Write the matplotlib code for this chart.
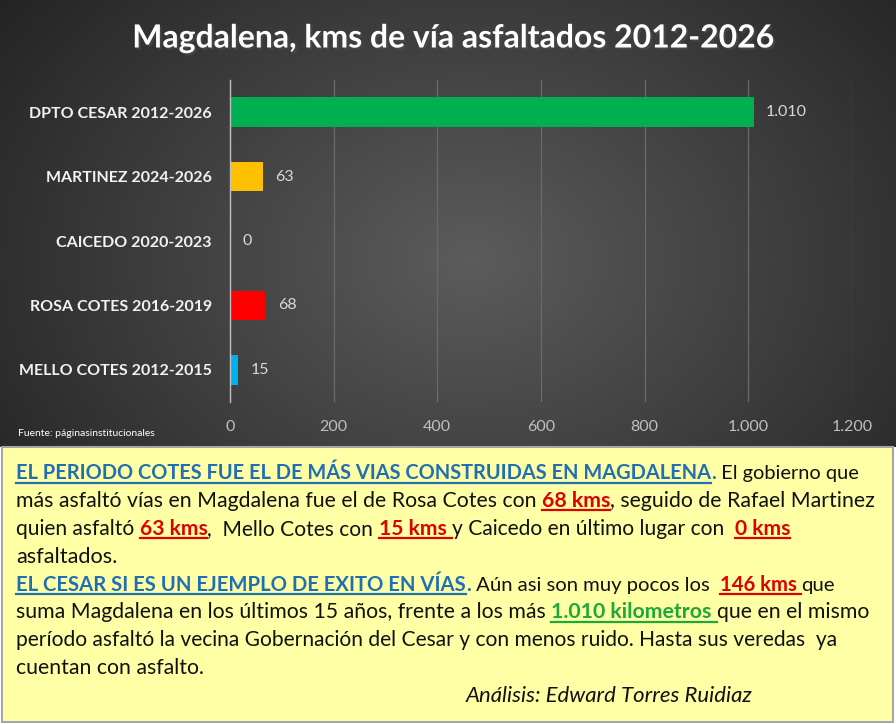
import numpy as np
import matplotlib
matplotlib.use("Agg")
import matplotlib.pyplot as plt
from matplotlib.patches import Rectangle
from matplotlib.lines import Line2D
import matplotlib.patheffects as pe

plt.rcParams['font.family'] = ['Lato', 'DejaVu Sans']

# data
categories = ["DPTO CESAR 2012-2026", "MARTINEZ 2024-2026", "CAICEDO 2020-2023",
              "ROSA COTES 2016-2019", "MELLO COTES 2012-2015"]
values = [1010, 63, 0, 68, 15]
bar_colors = ["#00B050", "#FFC000", "#A5A5A5", "#FF0000", "#00B0F0"]
value_labels = ["1.010", "63", "0", "68", "15"]
xticks = [0, 200, 400, 600, 800, 1000, 1200]
xtick_labels = ["0", "200", "400", "600", "800", "1.000", "1.200"]
title = "Magdalena, kms de vía asfaltados 2012-2026"
source = "Fuente: páginasinstitucionales"

BLUE = "#1F6FB4"
RED = "#E00000"
GREEN = "#1FA83A"
BLACK = "#111111"

# (text, color, bold, underline)
text_lines = [
    [("EL PERIODO COTES FUE EL DE MÁS VIAS CONSTRUIDAS EN MAGDALENA", BLUE, True, True),
     (".", BLUE, True, False),
     (" El gobierno que", BLACK, False, False)],
    [("más asfaltó vías en Magdalena fue el de Rosa Cotes con ", BLACK, False, False),
     ("68 kms", RED, True, True),
     (", seguido de Rafael Martinez", BLACK, False, False)],
    [("quien asfaltó ", BLACK, False, False),
     ("63 kms", RED, True, True),
     (",  Mello Cotes con ", BLACK, False, False),
     ("15 kms ", RED, True, True),
     ("y Caicedo en último lugar con  ", BLACK, False, False),
     ("0 kms", RED, True, True)],
    [("asfaltados.", BLACK, False, False)],
    [("EL CESAR SI ES UN EJEMPLO DE EXITO EN VÍAS", BLUE, True, True),
     (".", BLUE, True, False),
     (" Aún asi son muy pocos los  ", BLACK, False, False),
     ("146 kms ", RED, True, True),
     ("que", BLACK, False, False)],
    [("suma Magdalena en los últimos 15 años, frente a los más ", BLACK, False, False),
     ("1.010 kilometros ", GREEN, True, True),
     ("que en el mismo", BLACK, False, False)],
    [("período asfaltó la vecina Gobernación del Cesar y con menos ruido. Hasta sus veredas  ya", BLACK, False, False)],
    [("cuentan con asfalto.", BLACK, False, False)],
]
# right end of each line in the reference (px)
line_ends = [857, 870, 793, 117, 837, 870, 839, 204]
signature = "Análisis: Edward Torres Ruidiaz"

W, H = 896, 724
fig = plt.figure(figsize=(W / 100, H / 100), dpi=100)
fig.patch.set_facecolor("white")


def fx(px):
    return px / W


def fy(py):
    return 1 - py / H


# dark radial background for chart part
top_h = 447
bg = fig.add_axes([0, fy(top_h), 1, top_h / H])
yy, xx = np.mgrid[0:top_h, 0:W]
r = np.sqrt(((xx - 470) / 560.0) ** 2 + ((yy - 260) / 420.0) ** 2)
shade = np.clip(0.36 - 0.21 * r, 0.1, 0.4)
bg.imshow(np.dstack([shade] * 3), aspect="auto", interpolation="bilinear")
bg.set_axis_off()

# chart
ax = fig.add_axes([fx(230), fy(402), fx(852) - fx(230), (402 - 80) / H])
ax.patch.set_alpha(0)
ypos = np.arange(len(categories))
ax.barh(ypos, values, height=0.46, color=bar_colors, zorder=3)
ax.set_xlim(0, 1200)
ax.set_ylim(len(categories) - 0.5, -0.5)
ax.set_xticks(xticks)
ax.set_xticklabels(xtick_labels)
ax.set_yticks(ypos)
ax.set_yticklabels(categories)
ax.grid(axis="x", color="#6A6A6A", linewidth=0.9, zorder=0)
for s in ["top", "right", "bottom"]:
    ax.spines[s].set_visible(False)
ax.spines["left"].set_color("#BFBFBF")
ax.spines["left"].set_linewidth(1.0)
ax.spines["left"].set_zorder(4)
ax.tick_params(axis="x", length=0, pad=13, labelsize=11.5, labelcolor="#BFBFBF")
ax.tick_params(axis="y", length=0, pad=13, labelsize=11.5, labelcolor="#F2F2F2")
for lab in ax.get_yticklabels():
    lab.set_fontweight("bold")
for yv, v, lab in zip(ypos, values, value_labels):
    ax.annotate(lab, (v, yv), xytext=(9, 0), textcoords="offset points",
                va="center", ha="left", fontsize=11.5, color="#D9D9D9")

fig.text(fx(454), fy(38), title, ha="center", va="center", fontsize=23,
         fontweight="bold", color="white",
         path_effects=[pe.withSimplePatchShadow(offset=(1.5, -1.5), alpha=0.6)])
fig.text(fx(18), fy(433), source, ha="left", va="center", fontsize=7.5, color="white")

# yellow note box
fig.add_artist(Rectangle((fx(2), fy(722)), fx(893) - fx(2), (722 - 447) / H,
                         transform=fig.transFigure, facecolor="#FFFFA6",
                         edgecolor="#A6A6A6", linewidth=1.5, zorder=1))

renderer = fig.canvas.get_renderer()


def seg_width(txt, size, bold=False, style="normal"):
    kw = dict(fontsize=size, fontweight="bold" if bold else "normal", fontstyle=style)
    probe = fig.text(0, 0, txt + "|", **kw)
    bar = fig.text(0, 0, "|", **kw)
    w = probe.get_window_extent(renderer).width - bar.get_window_extent(renderer).width
    probe.remove()
    bar.remove()
    return w


x0 = 16
base0 = 479
step = 27.9
for i, (line, xend) in enumerate(zip(text_lines, line_ends)):
    w10 = sum(seg_width(t, 10, b) for t, c, b, u in line)
    size = 10 * (xend - x0) / w10
    x = x0
    yb = base0 + i * step
    for txt, col, bold, und in line:
        w = seg_width(txt, size, bold)
        fig.text(fx(x), fy(yb), txt, ha="left", va="baseline", fontsize=size,
                 fontweight="bold" if bold else "normal", color=col, zorder=5)
        if und:
            fig.add_artist(Line2D([fx(x), fx(x + w)], [fy(yb + 3.5), fy(yb + 3.5)],
                                  transform=fig.transFigure, color=col, linewidth=1.6, zorder=5))
        x += w

sig_size = 10 * (753 - 466) / seg_width(signature, 10, style="italic")
fig.text(fx(466), fy(702), signature, ha="left", va="baseline", fontsize=sig_size,
         fontstyle="italic", color=BLACK, zorder=5)

fig.savefig("out.png", dpi=100)
